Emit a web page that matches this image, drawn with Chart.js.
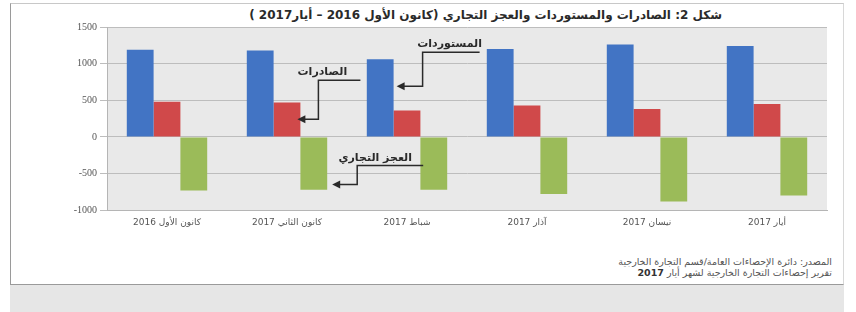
<!DOCTYPE html>
<html lang="ar">
<head>
<meta charset="utf-8">
<script src="https://cdn.jsdelivr.net/npm/chart.js@4.4.1/dist/chart.umd.min.js"></script>
<style>
  html, body { margin: 0; padding: 0; background: #fff; }
  body { width: 856px; height: 312px; position: relative; overflow: hidden; font-family: "DejaVu Sans", sans-serif; }
  .panel { position: absolute; left: 10px; top: 3px; width: 832px; height: 280px; border: 1px solid #9a9a9a; border-top-color: #c8c8c8; border-right-color: #d8d8d8; background: #fff; }
  .band  { position: absolute; left: 10px; top: 285px; width: 834px; height: 27px; background: #e6e6e6; }
  .title { position: absolute; left: 200px; width: 522px; top: 8px; text-align: right; direction: rtl;
           font: bold 12px "DejaVu Sans", sans-serif; color: #2a2a2a; white-space: nowrap; }
  .source { position: absolute; right: 24px; top: 256px; direction: rtl; text-align: right;
            font: 9.5px "DejaVu Sans", sans-serif; color: #555; line-height: 11px; white-space: nowrap; }
  .source b { font-weight: bold; color: #333; }
  #chart { position: absolute; left: 0; top: 0; }
</style>
</head>
<body>
<div class="panel"></div>
<div class="band"></div>
<div class="title">شكل 2: الصادرات والمستوردات والعجز التجاري (كانون الأول 2016 – أيار2017 )</div>
<div class="source">المصدر: دائرة الإحصاءات العامة/قسم التجارة الخارجية<br>تقرير إحصاءات التجارة الخارجية لشهر أيار <b>2017</b></div>
<canvas id="chart" width="856" height="312"></canvas>
<script>
// ─── البيانات ───
const months   = ['كانون الأول 2016', 'كانون الثاني 2017', 'شباط 2017', 'آذار 2017', 'نيسان 2017', 'أيار 2017'];
const imports  = [1190, 1180, 1060, 1200, 1260, 1240];   // الأزرق
const exports_ = [480, 470, 360, 430, 380, 450];          // الأحمر
const deficit  = [-730, -720, -720, -780, -880, -800];    // الأخضر
const yTicks   = [-1000, -500, 0, 500, 1000, 1500];

// ─── ملاحظات الأسهم ───
// ds/idx: أي عمود يشير إليه السهم، value: ارتفاع رأس السهم
const notes = [
  { text: 'المستوردات',   ds: 0, idx: 2, value: 690,  tipDx: 3,  elbow: 26, rise: 34, run: 57, textDx: 27 },
  { text: 'الصادرات',     ds: 1, idx: 1, value: 240,  tipDx: -3, elbow: 21, rise: 39, run: 42, textDx: 4 },
  { text: 'العجز التجاري', ds: 2, idx: 1, value: -650, tipDx: 5,  elbow: 25, rise: 19, run: 66, textDx: 18 },
];

const plotBg = {
  id: 'plotBg',
  beforeDraw(chart) {
    const { ctx, chartArea: a } = chart;
    ctx.save();
    ctx.fillStyle = '#e9e9e9';
    ctx.fillRect(a.left, a.top, a.right - a.left, a.bottom - a.top);
    ctx.restore();
  }
};

const arrows = {
  id: 'arrows',
  afterDatasetsDraw(chart) {
    const { ctx } = chart;
    const y = chart.scales.y;
    ctx.save();
    ctx.strokeStyle = '#2a2a2a';
    ctx.fillStyle = '#2a2a2a';
    ctx.lineWidth = 1.5;
    notes.forEach(n => {
      const bar = chart.getDatasetMeta(n.ds).data[n.idx];
      const tx = bar.x + bar.width / 2 + n.tipDx;
      const ty = y.getPixelForValue(n.value);
      const ex = tx + n.elbow, top = ty - n.rise;
      ctx.beginPath();
      ctx.moveTo(tx + 6, ty);
      ctx.lineTo(ex, ty);
      ctx.lineTo(ex, top);
      ctx.lineTo(ex + n.run, top);
      ctx.stroke();
      ctx.beginPath();
      ctx.moveTo(tx, ty);
      ctx.lineTo(tx + 8, ty - 4);
      ctx.lineTo(tx + 8, ty + 4);
      ctx.closePath();
      ctx.fill();
      ctx.font = 'bold 11px "DejaVu Sans", sans-serif';
      ctx.direction = 'rtl';
      ctx.textAlign = 'center';
      ctx.textBaseline = 'alphabetic';
      ctx.fillText(n.text, ex + n.textDx, top - 5);
    });
    ctx.restore();
  }
};

new Chart(document.getElementById('chart'), {
  type: 'bar',
  data: {
    labels: months,
    datasets: [
      { label: 'المستوردات', data: imports,  backgroundColor: '#4274c4' },
      { label: 'الصادرات',   data: exports_, backgroundColor: '#d0494a' },
      { label: 'العجز التجاري', data: deficit, backgroundColor: '#9bbb59' },
    ]
  },
  options: {
    responsive: false,
    animation: false,
    devicePixelRatio: 1,
    layout: { padding: { left: 0, right: 29, top: 27, bottom: 77 } },
    datasets: { bar: { categoryPercentage: 0.67, barPercentage: 1.0 } },
    plugins: { legend: { display: false }, tooltip: { enabled: false }, title: { display: false } },
    scales: {
      x: {
        grid: { display: false, drawTicks: false },
        border: { color: '#b5b5b5' },
        ticks: { color: '#555', font: { size: 9, family: '"DejaVu Sans", sans-serif' }, padding: 7, maxRotation: 0 }
      },
      y: {
        min: -1000, max: 1500,
        afterFit: s => { s.width = 107; },
        afterBuildTicks: s => { s.ticks = yTicks.map(v => ({ value: v })); },
        grid: { color: '#bdbdbd', tickLength: 7, tickColor: '#bdbdbd' },
        border: { color: '#b5b5b5' },
        ticks: { color: '#555', font: { size: 10, family: '"Liberation Serif", serif' }, padding: 3, callback: v => String(v) }
      }
    }
  },
  plugins: [plotBg, arrows]
});
</script>
</body>
</html>
